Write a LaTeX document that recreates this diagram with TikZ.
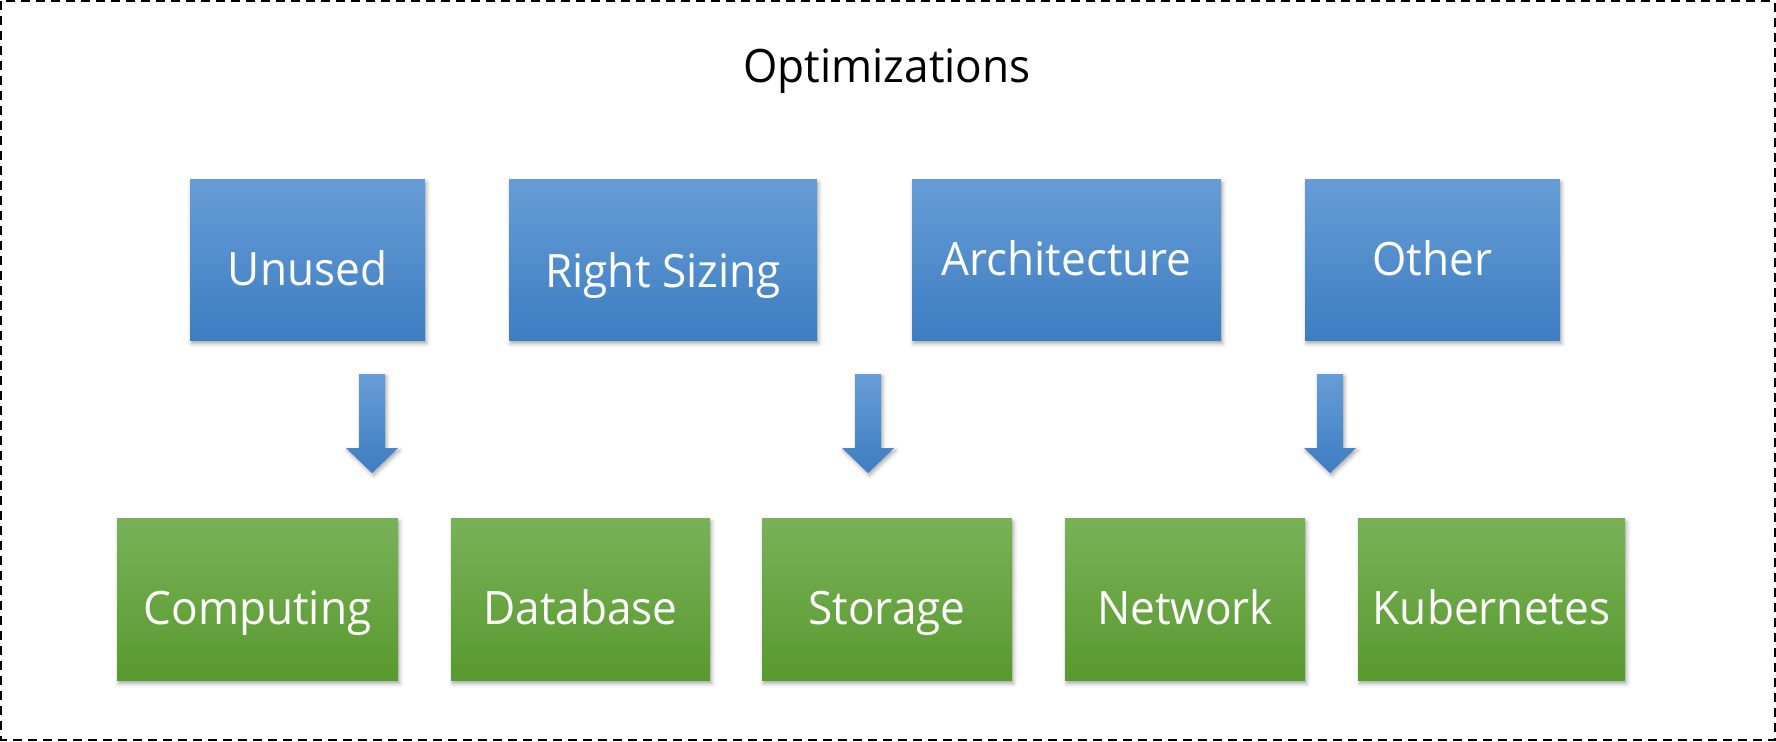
\documentclass[tikz,border=0pt]{standalone}
\usepackage{fontspec}
\setmainfont{Open Sans}[FakeStretch=0.96]
\usetikzlibrary{shadows.blur}
\definecolor{bluetop}{HTML}{679DD6}
\definecolor{bluebot}{HTML}{3D7DC2}
\definecolor{greentop}{HTML}{79B159}
\definecolor{greenbot}{HTML}{589A2E}
\begin{document}
\begin{tikzpicture}[x=0.5pt,y=-0.5pt,
  boxbase/.style={anchor=north, inner xsep=0pt, inner ysep=0pt, text=white,
    font=\fontsize{23pt}{27pt}\selectfont,
    blur shadow={shadow xshift=0.8pt, shadow yshift=-1.6pt, shadow blur radius=2pt, shadow opacity=35}},
  bluebox/.style={boxbase, top color=bluetop, bottom color=bluebot},
  greenbox/.style={boxbase, top color=greentop, bottom color=greenbot, text height=53pt, text depth=28pt},
  blockarrow/.style={top color=bluetop, bottom color=bluebot, draw=none,
    blur shadow={shadow xshift=0.8pt, shadow yshift=-1.2pt, shadow blur radius=2pt, shadow opacity=35}},
  frame/.style={draw=black, line width=1pt, dash pattern=on 4.5pt off 3pt},
  titletext/.style={anchor=base, font=\fontsize{23pt}{27pt}\selectfont}]
\useasboundingbox (0,0) rectangle (1776,741);
\draw[frame] (1,1) rectangle (1774.5,739.5);
\node[titletext] (title) at (887,82) {Optimizations};
% top row
\node[bluebox, minimum width=117.5pt, text height=53pt, text depth=27.5pt] (unused) at (307.5,179) {Unused};
\node[bluebox, minimum width=154pt, text height=54pt, text depth=26.5pt] (right) at (663,179) {Right Sizing};
\node[bluebox, minimum width=154.5pt, text height=48pt, text depth=32.5pt] (arch) at (1066.5,179) {Architecture};
\node[bluebox, minimum width=127.5pt, text height=48pt, text depth=32.5pt] (other) at (1432.5,179) {Other};
% bottom row
\node[greenbox, minimum width=140.5pt] (comp) at (257.5,518) {Computing};
\node[greenbox, minimum width=129.5pt] (db) at (580.5,518) {Database};
\node[greenbox, minimum width=125pt] (stor) at (887,518) {Storage};
\node[greenbox, minimum width=120pt] (net) at (1185,518) {Network};
\node[greenbox, minimum width=133.5pt] (kube) at (1491.5,518) {Kubernetes};
% block arrows
\foreach \cx/\nm in {372/a1, 868/a2, 1330/a3}{
  \coordinate (\nm) at (\cx,374);
  \path[blockarrow] ([xshift=-6.5pt]\nm) -- ([xshift=6.5pt]\nm) -- ([xshift=6.5pt,yshift=-37pt]\nm)
    -- ([xshift=13pt,yshift=-37pt]\nm) -- ([yshift=-49.5pt]\nm) -- ([xshift=-13pt,yshift=-37pt]\nm)
    -- ([xshift=-6.5pt,yshift=-37pt]\nm) -- cycle;
}
\end{tikzpicture}
\end{document}
